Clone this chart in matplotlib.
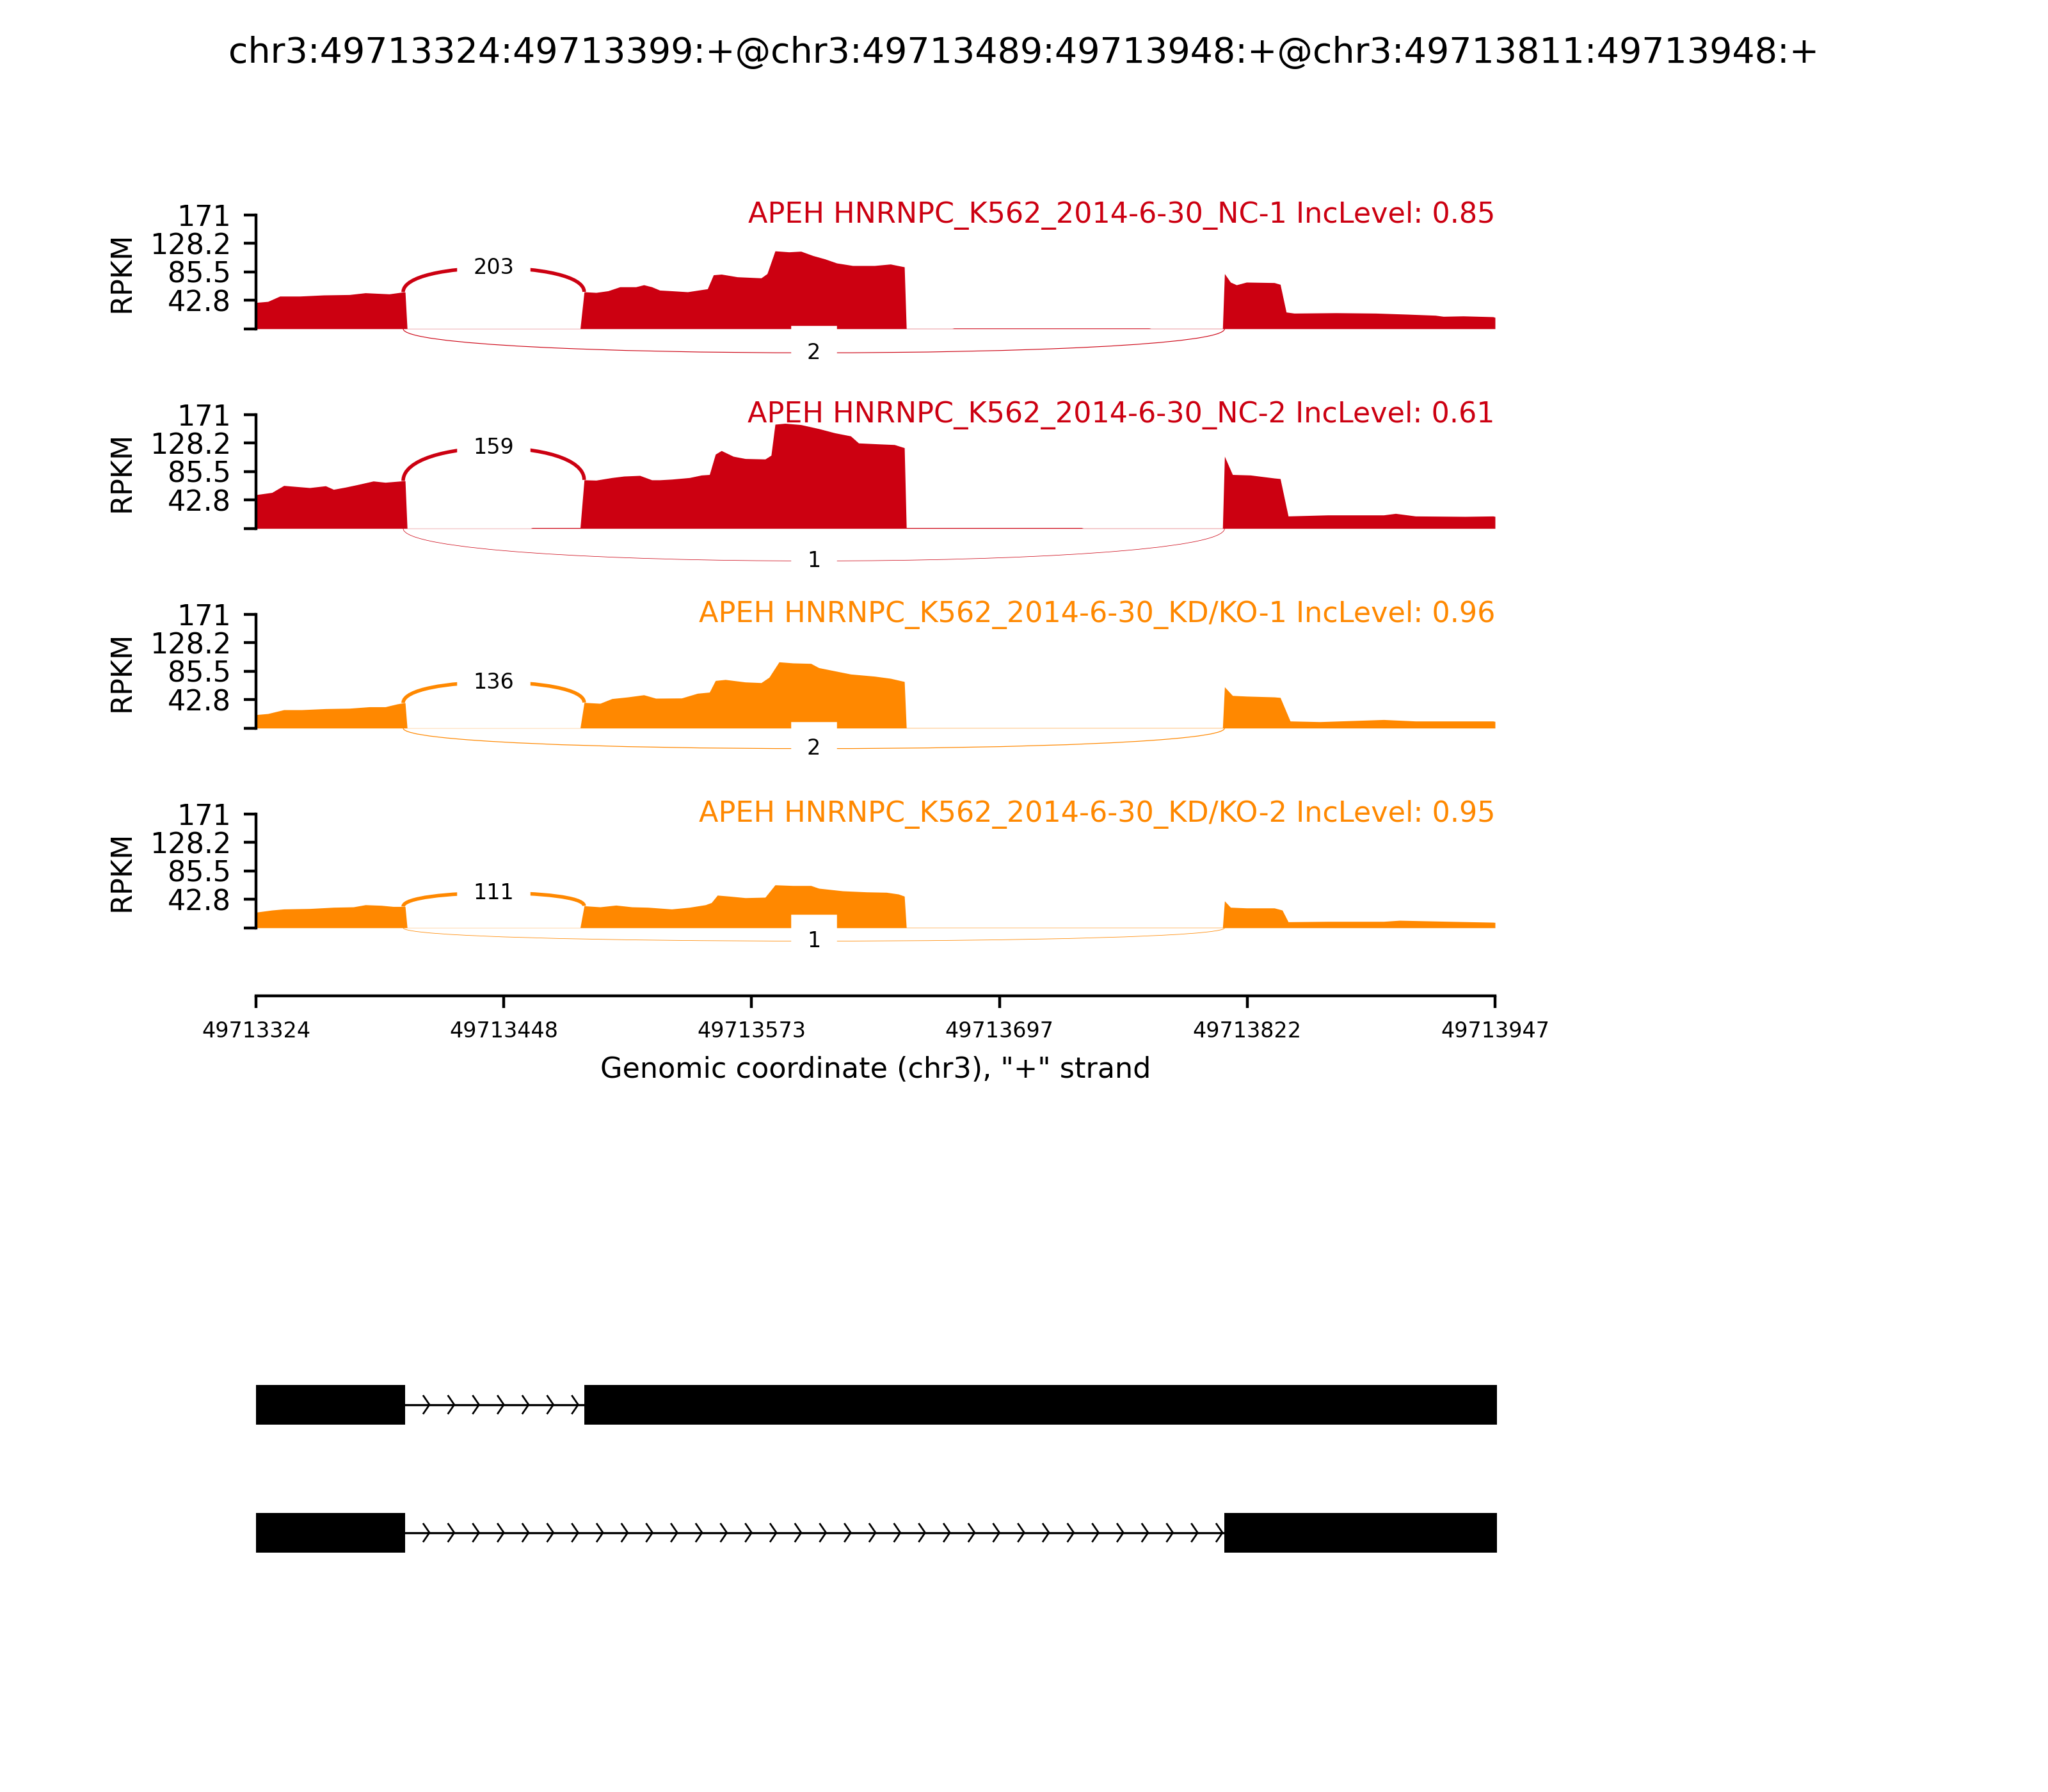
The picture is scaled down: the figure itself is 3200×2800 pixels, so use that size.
import numpy as np
import matplotlib
matplotlib.use("Agg")
import matplotlib.pyplot as plt
from matplotlib.path import Path
from matplotlib.patches import PathPatch

# event / region
event_title = "chr3:49713324:49713399:+@chr3:49713489:49713948:+@chr3:49713811:49713948:+"
tx_start = 49713324
tx_end = 49713947
x_label = 'Genomic coordinate (chr3), "+" strand'

sample_names = [
    "APEH HNRNPC_K562_2014-6-30_NC-1",
    "APEH HNRNPC_K562_2014-6-30_NC-2",
    "APEH HNRNPC_K562_2014-6-30_KD/KO-1",
    "APEH HNRNPC_K562_2014-6-30_KD/KO-2",
]
inc_levels = ["0.85", "0.61", "0.96", "0.95"]
sample_colors = ["#CC0011", "#CC0011", "#FF8800", "#FF8800"]

# coverage: offset from tx_start (bp) and RPKM
nc1_pos = [0, 6, 12, 22, 34, 47, 55, 67, 74, 75, 76, 163, 165, 171, 177, 183,
           191, 195, 199, 203, 209, 217, 224, 227, 230, 234, 242, 254, 257,
           261, 268, 274, 280, 286, 292, 300, 311, 319, 326, 327, 350, 351,
           449, 450, 486, 487, 490, 493, 498, 512, 515, 518, 522, 543, 563,
           579, 593, 597, 607, 622, 623]
nc1_rpkm = [39.5, 41, 49, 49, 50.7, 51.3, 54, 52.3, 55.2, 55, 0.3, 0.3, 55.5,
            54.5, 57, 63, 63, 66, 63, 58, 57, 55.5, 58.7, 60, 81, 82, 78, 76.4,
            82.8, 117, 115.5, 116.5, 110, 105, 98.8, 95, 95, 97.2, 93, 0.4,
            0.4, 1.0, 1.0, 0.4, 0.4, 82.8, 70, 66, 70, 69.3, 66.7, 25, 23.4,
            24, 23.4, 21.8, 20.2, 18.6, 19.2, 18, 17]

nc2_pos = [0, 8, 14, 18, 27, 35, 39, 45, 51, 59, 65, 74, 75, 76, 138, 139,
           163, 165, 171, 179, 185, 193, 199, 203, 209, 218, 224, 228, 231,
           234, 240, 246, 256, 259, 261, 266, 274, 283, 291, 299, 303, 313,
           321, 326, 327, 415, 416, 486, 487, 491, 500, 512, 515, 519, 539,
           567, 573, 583, 608, 622, 623]
nc2_rpkm = [50.7, 54, 64.5, 63.5, 61.3, 64, 58.7, 62, 65.8, 71.2, 69.3, 71.5,
            71.5, 0.3, 0.3, 1.2, 1.2, 73, 72.5, 76.4, 78.6, 79.6, 73, 73, 74,
            76.4, 80.2, 81, 111.6, 117, 108.4, 105, 104.3, 110, 156.6, 158,
            156, 150, 143.7, 139, 128.4, 127, 126, 121.3, 1.2, 1.2, 0.4, 0.4,
            108.4, 81, 80.2, 75.7, 74.8, 18.6, 20.2, 20.2, 22.5, 18.6, 18,
            18.6, 18]

kd1_pos = [0, 6, 14, 23, 35, 47, 57, 65, 71, 74, 75, 76, 163, 165, 173, 179,
           187, 195, 201, 214, 222, 228, 231, 236, 246, 254, 258, 263, 270,
           279, 283, 291, 299, 311, 319, 326, 327, 486, 487, 491, 498, 512,
           515, 520, 535, 551, 567, 583, 604, 622, 623]
kd1_rpkm = [20.2, 21.8, 27.6, 27.6, 29.2, 29.8, 32, 32, 36.3, 37.9, 38, 0.3,
            0.3, 38.5, 37.2, 44.3, 46.8, 50, 44.9, 45.2, 52.3, 54, 71.5, 73,
            69.3, 68.3, 76.4, 99.5, 97.9, 97.2, 90.8, 86, 81.2, 78, 74.8, 70,
            0.5, 0.5, 62, 49, 48, 46.8, 46, 10.6, 9.6, 11.2, 12.8, 10.6, 10.6,
            10.6, 10]

kd2_pos = [0, 8, 14, 27, 39, 49, 55, 63, 69, 74, 75, 76, 163, 165, 173, 181,
           189, 197, 209, 218, 226, 229, 232, 238, 246, 256, 261, 270, 279,
           283, 295, 307, 317, 323, 326, 327, 486, 487, 490, 498, 512, 516,
           519, 539, 567, 575, 600, 622, 623]
kd2_rpkm = [23.4, 26.6, 28.2, 28.9, 30.8, 31.4, 34.6, 33.7, 32, 32, 32, 0.3,
            0.3, 33, 31.4, 34, 31.4, 30.8, 28.2, 30.8, 34.6, 37.9, 49, 47.5,
            45.2, 45.9, 64.5, 63.5, 63.5, 59.4, 55.5, 53.9, 53.3, 50.7, 47.5,
            0.5, 0.5, 40.4, 30.8, 29.8, 29.8, 26.6, 9, 9.6, 9.6, 11.2, 9.6,
            8.3, 8]

coverage_pos = [nc1_pos, nc2_pos, kd1_pos, kd2_pos]
coverage_rpkm = [nc1_rpkm, nc2_rpkm, kd1_rpkm, kd2_rpkm]

# junctions (left splice site, right splice site) and read counts
jxn_inclusion = (49713399, 49713489)
jxn_skipping = (49713399, 49713811)
inclusion_counts = [203, 159, 136, 111]
skipping_counts = [2, 1, 2, 1]

# isoform structures (exon start, exon end)
isoforms = [
    [(49713324, 49713399), (49713489, 49713948)],
    [(49713324, 49713399), (49713811, 49713948)],
]

ymax = 171
ytick_values = [0, 42.75, 85.5, 128.25, 171]
ytick_labels = ["", "42.8", "85.5", "128.2", "171"]


def bezier_mid(pts):
    p = np.array(pts, dtype=float)
    return 0.125 * p[0] + 0.375 * p[1] + 0.375 * p[2] + 0.125 * p[3]


def plot_sample(ax, pos, rpkm, color, label, inc_count, skip_count, last):
    x = tx_start + np.array(pos, dtype=float)
    y = np.array(rpkm, dtype=float)
    ax.fill_between(x, y, 0, color=color, lw=0)

    h = 0.4125 * y.max()
    max_j = max(inc_count, skip_count)
    for (left, right), count, above in [(jxn_inclusion, inc_count, True),
                                        (jxn_skipping, skip_count, False)]:
        ss1, ss2 = left - 1, right
        if above:
            d1 = np.interp(ss1, x, y)
            d2 = np.interp(ss2, x, y)
            pts = [(ss1, d1), (ss1, d1 + h), (ss2, d2 + h), (ss2, d2)]
        else:
            pts = [(ss1, 0), (ss1, -h), (ss2, -h), (ss2, 0)]
        path = Path(pts, [Path.MOVETO, Path.CURVE4, Path.CURVE4, Path.CURVE4])
        lw = np.log(count + 1) / np.log(max_j + 1)
        ax.add_patch(PathPatch(path, ec=color, fc="none", lw=lw))
        mx, my = bezier_mid(pts)
        ax.text(mx, my, str(count), fontsize=6, ha="center", va="center",
                backgroundcolor="w")

    ax.text(tx_end, ymax, label, fontsize=8, color=color,
            ha="right", va="center")

    ymin = -0.6 * ymax
    ax.set_xlim(tx_start, tx_end)
    ax.set_ylim(ymin, ymax)
    ax.spines["top"].set_visible(False)
    ax.spines["right"].set_visible(False)
    ax.spines["left"].set_bounds(0, ymax)
    ax.set_yticks(ytick_values)
    ax.set_yticklabels(ytick_labels, fontsize=8)
    ax.set_ylabel("RPKM", fontsize=8)
    # centre the label on the visible part of the y spine
    ax.yaxis.label.set_y((ymax / 2 - ymin) / (ymax - ymin))
    if last:
        xt = np.linspace(tx_start, tx_end, 6)
        ax.set_xticks(xt)
        ax.set_xticklabels([str(int(v)) for v in xt], fontsize=6)
        ax.set_xlabel(x_label, fontsize=8)
    else:
        ax.spines["bottom"].set_visible(False)
        ax.set_xticks([])


def plot_isoforms(ax):
    n_arrows = 50
    step = (tx_end - tx_start) / n_arrows
    for row, exons in enumerate(isoforms):
        yloc = len(isoforms) - 1 - row
        for (s, e) in exons:
            ax.broken_barh([(s, e - s)], (yloc - 0.155, 0.31),
                           facecolors="k", edgecolor="none", clip_on=False)
        for (a, b) in zip(exons[:-1], exons[1:]):
            istart, iend = a[1], b[0]
            ax.plot([istart, iend], [yloc, yloc], color="k", lw=0.6)
            for k in range(1, n_arrows + 1):
                tip = tx_start + k * step
                if istart < tip <= iend:
                    ax.plot([tip - 3, tip, tip - 3],
                            [yloc + 0.068, yloc, yloc - 0.068],
                            color="k", lw=0.5)
    ax.set_xlim(tx_start, tx_end)
    ax.set_ylim(-0.5, 1.5)
    ax.axis("off")


fig = plt.figure(figsize=(8, 7))
fig.suptitle(event_title, fontsize=10)

left, width = 0.125, 0.605
panel_h = 0.10154
panel_gap = 0.11143
for i in range(4):
    top = 0.88 - i * panel_gap
    ax = fig.add_axes([left, top - panel_h, width, panel_h])
    label = "%s IncLevel: %s" % (sample_names[i], inc_levels[i])
    plot_sample(ax, coverage_pos[i], coverage_rpkm[i], sample_colors[i],
                label, inclusion_counts[i], skipping_counts[i], i == 3)

gene_ax = fig.add_axes([left, 0.109, width, 0.14286])
plot_isoforms(gene_ax)

fig.savefig("out.png", dpi=400)
